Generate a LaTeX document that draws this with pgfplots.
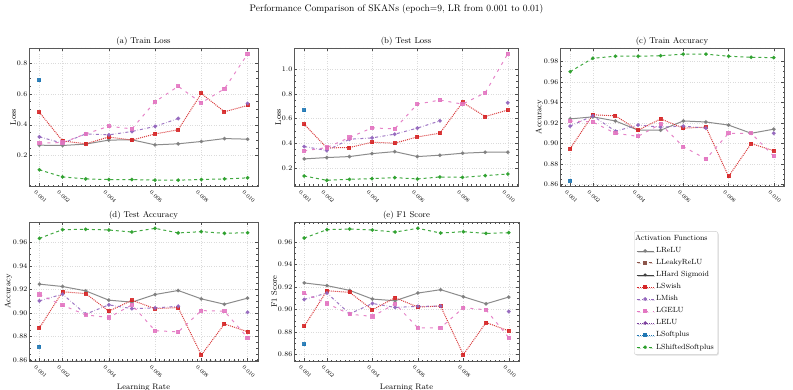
\documentclass[border=0pt]{standalone}
\usepackage{pgfplots}
\usepackage{pgfplotstable}
\pgfplotsset{compat=1.18}
\usetikzlibrary{shadows}
\definecolor{cRelu}{HTML}{7F7F7F}
\definecolor{cLeaky}{HTML}{8C564B}
\definecolor{cHard}{HTML}{404040}
\definecolor{cSwish}{HTML}{D62728}
\definecolor{cMish}{HTML}{9467BD}
\definecolor{cGelu}{HTML}{E377C2}
\definecolor{cElu}{HTML}{7B3F9E}
\definecolor{cSoft}{HTML}{1F77B4}
\definecolor{cShift}{HTML}{2CA02C}

\pgfplotstableread{
lr relu swish mish gelu soft shift
0.001 0.267 0.480 0.321 0.280 0.687 0.107
0.002 0.265 0.295 0.280 0.284 nan 0.061
0.003 0.274 0.276 0.340 0.340 nan 0.048
0.004 0.300 0.320 0.334 0.390 nan 0.044
0.005 0.302 0.300 0.356 0.373 nan 0.044
0.006 0.269 0.340 0.389 0.549 nan 0.040
0.007 0.276 0.367 0.440 0.649 nan 0.040
0.008 0.291 0.603 nan 0.542 nan 0.044
0.009 0.310 0.484 nan 0.633 nan 0.048
0.010 0.306 0.525 0.538 0.859 nan 0.055
}\tabA
\pgfplotstableread{
lr relu swish mish gelu soft shift
0.001 0.273 0.554 0.373 0.338 0.668 0.135
0.002 0.284 0.362 0.341 0.365 nan 0.100
0.003 0.292 0.365 0.432 0.446 nan 0.108
0.004 0.316 0.408 0.443 0.524 nan 0.114
0.005 0.332 0.400 0.473 0.516 nan 0.122
0.006 0.292 0.451 0.522 0.716 nan 0.111
0.007 0.303 0.481 0.581 0.749 nan 0.127
0.008 0.319 0.730 nan 0.716 nan 0.124
0.009 0.327 0.616 nan 0.808 nan 0.138
0.010 0.327 0.668 0.727 1.124 nan 0.151
}\tabB
\pgfplotstableread{
lr relu swish mish gelu soft shift
0.001 0.924 0.895 0.917 0.922 0.864 0.970
0.002 0.926 0.928 0.927 0.921 nan 0.983
0.003 0.922 0.927 0.912 0.910 nan 0.985
0.004 0.913 0.913 0.918 0.907 nan 0.985
0.005 0.913 0.924 0.916 0.919 nan 0.9855
0.006 0.922 0.915 0.917 0.897 nan 0.987
0.007 0.921 0.916 0.915 0.885 nan 0.987
0.008 0.918 0.868 nan 0.910 nan 0.985
0.009 0.910 0.900 nan 0.910 nan 0.984
0.010 0.914 0.893 0.910 0.8876 nan 0.9836
}\tabC
\pgfplotstableread{
lr relu swish mish gelu soft shift
0.001 0.9245 0.8873 0.9103 0.9157 0.8711 0.9634
0.002 0.9225 0.9180 0.9160 0.9066 nan 0.9708
0.003 0.9188 0.9165 0.8990 0.8984 nan 0.9711
0.004 0.9109 0.9015 0.9069 0.8961 nan 0.9705
0.005 0.9092 0.9108 0.9037 0.9069 nan 0.9688
0.006 0.9157 0.9037 0.9043 0.8850 nan 0.9719
0.007 0.9191 0.9046 0.9057 0.8839 nan 0.9680
0.008 0.9120 0.8643 nan 0.9020 nan 0.9691
0.009 0.9074 0.8907 nan 0.9015 nan 0.9677
0.010 0.9126 0.8841 0.9006 0.8790 nan 0.9682
}\tabD
\pgfplotstableread{
lr relu swish mish gelu soft shift
0.001 0.9236 0.8852 0.9090 0.9144 0.8692 0.9634
0.002 0.9212 0.9167 0.9146 0.9054 nan 0.9708
0.003 0.9170 0.9152 0.8962 0.8959 nan 0.9714
0.004 0.9093 0.8998 0.9054 0.8939 nan 0.9705
0.005 0.9078 0.9105 0.9019 0.9051 nan 0.9687
0.006 0.9146 0.9022 0.9028 0.8838 nan 0.9720
0.007 0.9176 0.9031 0.9031 0.8838 nan 0.9678
0.008 0.9114 0.8600 nan 0.9016 nan 0.9690
0.009 0.9051 0.8885 nan 0.8998 nan 0.9675
0.010 0.9111 0.8811 0.8983 0.8751 nan 0.9681
}\tabE

\pgfplotsset{
  sRelu/.style={color=cRelu, solid, line width=1pt, mark=*, mark size=1.3pt, mark options={solid}},
  sLeaky/.style={color=cLeaky, dashed, line width=1pt, mark=square*, mark size=1.4pt, mark options={solid}},
  sHard/.style={color=cHard, solid, line width=1pt, mark=*, mark size=1.1pt, mark options={solid}},
  sSwish/.style={color=cSwish, densely dotted, line width=1pt, mark=square*, mark size=1.5pt, mark options={solid}},
  sMish/.style={color=cMish, dash dot, line width=1pt, mark=*, mark size=1.4pt, mark options={solid}},
  sGelu/.style={color=cGelu, dash pattern=on 3pt off 5pt, line width=1pt, mark=square*, mark size=1.6pt, mark options={solid}},
  sElu/.style={color=cElu, densely dotted, line width=1pt, mark=*, mark size=1.4pt, mark options={solid}},
  sSoft/.style={color=cSoft, densely dotted, line width=1pt, mark=square*, mark size=1.5pt, mark options={solid}},
  sShift/.style={color=cShift, dashed, line width=1pt, mark=*, mark size=1.3pt, mark options={solid}},
  panel/.style={
    scale only axis,
    xmin=0.00055, xmax=0.01045,
    xtick={0.001,0.002,0.004,0.006,0.008,0.010},
    xticklabels={0.001,0.002,0.004,0.006,0.008,0.010},
    minor xtick={0.0006,0.0008,0.0012,0.0014,0.0016,0.0018,0.0022,0.0024,0.0026,0.0028,0.003,0.0032,0.0034,0.0036,0.0038,0.0042,0.0044,0.0046,0.0048,0.005,0.0052,0.0054,0.0056,0.0058,0.0062,0.0064,0.0066,0.0068,0.007,0.0072,0.0074,0.0076,0.0078,0.0082,0.0084,0.0086,0.0088,0.009,0.0092,0.0094,0.0096,0.0098,0.0102,0.0104},
    scaled x ticks=false, scaled y ticks=false,
    xticklabel style={xshift=-3pt, yshift=-2pt, rotate=-45, anchor=north west, font=\fontsize{5.5}{6}\selectfont, inner sep=1pt},
    yticklabel style={font=\fontsize{7.5}{8}\selectfont, inner sep=1.5pt},
    tick align=inside, xtick pos=both, ytick pos=both,
    minor y tick num=3,
    major tick length=3pt, minor tick length=1.5pt,
    grid=major, grid style={dotted, gray!28, line width=0.4pt},
    axis line style={gray!70!black},
    every tick/.style={gray!60!black},
    title style={font=\fontsize{8.5}{10}\selectfont, yshift=-7pt},
    ylabel style={font=\fontsize{8}{9}\selectfont, yshift=-4pt},
    xlabel style={font=\fontsize{8}{9}\selectfont, yshift=-1pt},
    unbounded coords=jump,
    every axis plot/.append style={opacity=0.9},
  },
  lossfmt/.style={yticklabel={\pgfmathprintnumber[fixed, fixed zerofill, precision=1]{\tick}}},
  accfmt/.style={yticklabel={\pgfmathprintnumber[fixed, fixed zerofill, precision=2]{\tick}}},
}

\newcommand{\allplots}[1]{%
  \addplot[sRelu] table[x=lr,y=relu]{#1};
  \addplot[sSwish] table[x=lr,y=swish]{#1};
  \addplot[sMish] table[x=lr,y=mish]{#1};
  \addplot[sGelu] table[x=lr,y=gelu]{#1};
  \addplot[sSoft] table[x=lr,y=soft]{#1};
  \addplot[sShift] table[x=lr,y=shift]{#1};
}

\begin{document}
\begin{tikzpicture}[x=1pt,y=1pt]
\useasboundingbox (0,-390) rectangle (793,0);
\node[font=\fontsize{9.5}{11}\selectfont] at (396.5,-9) {Performance Comparison of SKANs (epoch=9, LR from 0.001 to 0.01)};

\begin{axis}[panel, lossfmt, at={(29pt,-48pt)}, anchor=north west, width=229pt, height=138pt,
  ymin=0.002, ymax=0.898, ytick={0.2,0.4,0.6,0.8}, title={(a) Train Loss}, ylabel={Loss}]
\allplots{\tabA}
\end{axis}

\begin{axis}[panel, lossfmt, at={(294pt,-48pt)}, anchor=north west, width=224pt, height=138pt,
  ymin=0.054, ymax=1.17, ytick={0.2,0.4,0.6,0.8,1.0}, title={(b) Test Loss}, ylabel={Loss}]
\allplots{\tabB}
\end{axis}

\begin{axis}[panel, accfmt, at={(560pt,-48pt)}, anchor=north west, width=224pt, height=138pt,
  ymin=0.8587, ymax=0.993, ytick={0.86,0.88,0.90,0.92,0.94,0.96,0.98}, title={(c) Train Accuracy}, ylabel={Accuracy}]
\allplots{\tabC}
\end{axis}

\begin{axis}[panel, accfmt, at={(29pt,-222pt)}, anchor=north west, width=229pt, height=139pt,
  ymin=0.8592, ymax=0.9773, ytick={0.86,0.88,0.90,0.92,0.94,0.96}, title={(d) Test Accuracy}, ylabel={Accuracy}, xlabel={Learning Rate}]
\allplots{\tabD}
\end{axis}

\begin{axis}[panel, accfmt, at={(294pt,-222pt)}, anchor=north west, width=225pt, height=139pt,
  ymin=0.8544, ymax=0.9776, ytick={0.86,0.88,0.90,0.92,0.94,0.96}, title={(e) F1 Score}, ylabel={F1 Score}, xlabel={Learning Rate}]
\allplots{\tabE}
\end{axis}

\begin{axis}[at={(676pt,-293pt)}, anchor=center, hide axis, scale only axis, width=10pt, height=10pt,
  xmin=0, xmax=1, ymin=0, ymax=1,
  legend cell align=left,
  legend style={at={(0.5,0.5)}, anchor=center, font=\fontsize{7.5}{8.5}\selectfont, draw=gray!40, fill=white,
    rounded corners=2pt, drop shadow={opacity=0.25, shadow xshift=1pt, shadow yshift=-1pt}, row sep=1.3pt, inner sep=2pt},
  legend image post style={line width=0.8pt},
]
\addlegendimage{empty legend}\addlegendentry{\hspace{-21pt}Activation Functions}
\addlegendimage{sRelu}\addlegendentry{LReLU}
\addlegendimage{sLeaky}\addlegendentry{LLeakyReLU}
\addlegendimage{sHard}\addlegendentry{LHard Sigmoid}
\addlegendimage{sSwish}\addlegendentry{LSwish}
\addlegendimage{sMish}\addlegendentry{LMish}
\addlegendimage{sGelu}\addlegendentry{LGELU}
\addlegendimage{sElu}\addlegendentry{LELU}
\addlegendimage{sSoft}\addlegendentry{LSoftplus}
\addlegendimage{sShift}\addlegendentry{LShiftedSoftplus}
\end{axis}
\end{tikzpicture}
\end{document}
